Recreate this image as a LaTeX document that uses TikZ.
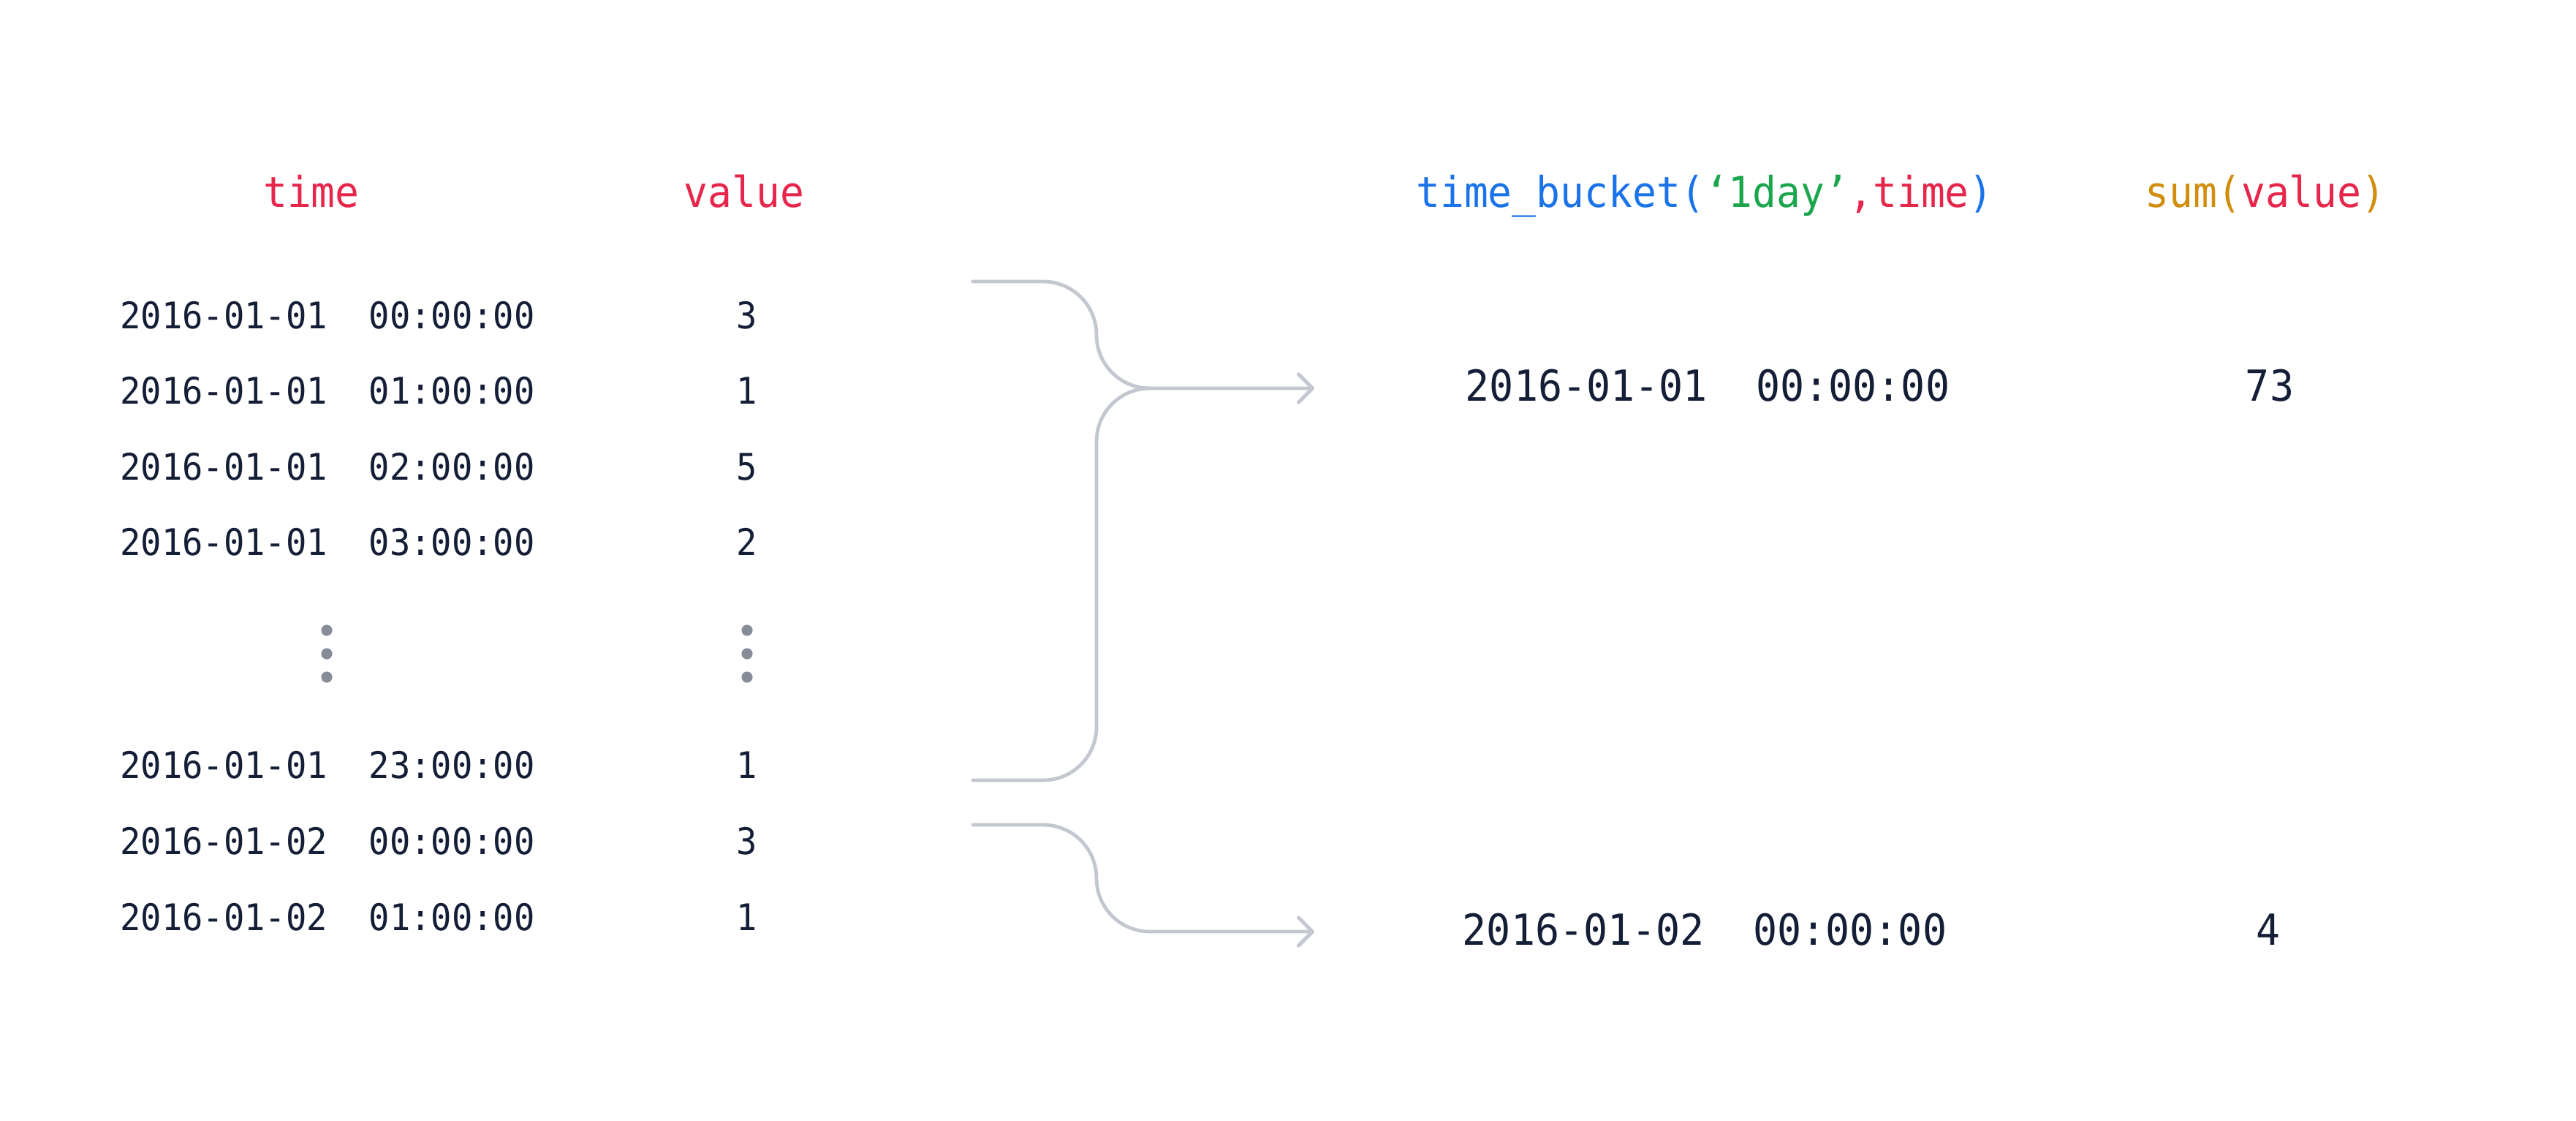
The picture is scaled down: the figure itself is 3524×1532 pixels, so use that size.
\documentclass[tikz,border=0pt]{standalone}
\usepackage{fontspec}
\usetikzlibrary{arrows.meta}
\newfontfamily\dmono{DejaVu Sans Mono}[FakeStretch=0.94]
\definecolor{navy}{HTML}{141E36}
\definecolor{kred}{HTML}{E6264B}
\definecolor{kblue}{HTML}{1A73E8}
\definecolor{kgreen}{HTML}{1BA54D}
\definecolor{kgold}{HTML}{D18E0E}
\definecolor{linegray}{HTML}{C3C7D0}
\definecolor{dotgray}{HTML}{878C99}
\tikzset{
  lrow/.style={font=\dmono\fontsize{12.53pt}{15pt}\selectfont, text=navy, anchor=base, inner sep=0pt},
  rrow/.style={font=\dmono\fontsize{14.63pt}{17pt}\selectfont, text=navy, anchor=base, inner sep=0pt},
  hdr/.style={font=\dmono\fontsize{14.53pt}{17pt}\selectfont, anchor=base, inner sep=0pt},
  conn/.style={draw=linegray, line width=1.2pt, line cap=round, line join=round, rounded corners=18.25pt},
  tip/.style={-{Straight Barb[length=4.8pt,width=9.6pt,round]}},
  vdot/.style={circle, fill=dotgray, inner sep=0pt, minimum size=3.8pt}
}
\begin{document}
\begin{tikzpicture}[x=0.25pt,y=-0.25pt]
\useasboundingbox[fill=white] (0,0) rectangle (3524,1532);
% headers
\node[hdr, text=kred] (hTime) at (426,283) {time};
\node[hdr, text=kred] (hValue) at (1018,283) {value};
\node[hdr] (hBucket) at (2332,283) {\textcolor{kblue}{time\_bucket(}\textcolor{kgreen}{‘1day’}\textcolor{kred}{,time}\textcolor{kblue}{)}};
\node[hdr] (hSum) at (3099,283) {\textcolor{kgold}{sum(}\textcolor{kred}{value}\textcolor{kgold}{)}};
% left table
\node[lrow] (l1) at (448,449) {2016-01-01\ \ 00:00:00};
\node[lrow] (l2) at (448,552.5) {2016-01-01\ \ 01:00:00};
\node[lrow] (l3) at (448,656) {2016-01-01\ \ 02:00:00};
\node[lrow] (l4) at (448,759.5) {2016-01-01\ \ 03:00:00};
\node[lrow] (l5) at (448,1064) {2016-01-01\ \ 23:00:00};
\node[lrow] (l6) at (448,1168) {2016-01-02\ \ 00:00:00};
\node[lrow] (l7) at (448,1272) {2016-01-02\ \ 01:00:00};
\node[lrow] (v1) at (1022,449) {3};
\node[lrow] (v2) at (1022,552.5) {1};
\node[lrow] (v3) at (1022,656) {5};
\node[lrow] (v4) at (1022,759.5) {2};
\node[lrow] (v5) at (1022,1064) {1};
\node[lrow] (v6) at (1022,1168) {3};
\node[lrow] (v7) at (1022,1272) {1};
% ellipsis dots
\foreach \y [count=\i] in {862,894,926} {
  \node[vdot] (dl\i) at (447,\y) {};
  \node[vdot] (dr\i) at (1022,\y) {};
}
% right table
\node[rrow] (r1) at (2336,548) {2016-01-01\ \ 00:00:00};
\node[rrow] (r2) at (2332,1292) {2016-01-02\ \ 00:00:00};
\node[rrow] (s1) at (3105,548) {73};
\node[rrow] (s2) at (3103,1292) {4};
% connectors
\coordinate (a1) at (1331,385);
\coordinate (a2) at (1331,1067);
\coordinate (j1) at (1500,531);
\coordinate (j1r) at (1573,531);
\coordinate (t1) at (1798,531);
\coordinate (b1) at (1331,1128);
\coordinate (j2) at (1500,1274);
\coordinate (t2) at (1798,1274);
\draw[conn, tip] (a1) -| (j1) -- (t1);
\draw[conn] (a2) -| (j1) -- (j1r);
\draw[conn, tip] (b1) -| (j2) -- (t2);
\end{tikzpicture}
\end{document}
